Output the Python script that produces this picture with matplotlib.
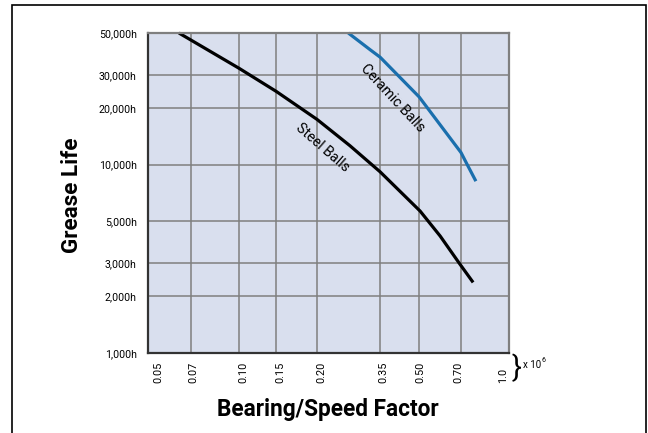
import numpy as np
import matplotlib
matplotlib.use("Agg")
import matplotlib.pyplot as plt
from matplotlib.patches import Rectangle
from matplotlib.transforms import ScaledTranslation

plt.rcParams['font.family'] = ['Roboto', 'DejaVu Sans']

# ---- data ----
x_ticks = [0.05, 0.07, 0.10, 0.15, 0.20, 0.35, 0.50, 0.70, 1.0]
x_tick_labels = ["0.05", "0.07", "0.10", "0.15", "0.20", "0.35", "0.50", "0.70", "1.0"]
y_ticks = [1000, 2000, 3000, 5000, 10000, 20000, 30000, 50000]
y_tick_labels = ["1,000h", "2,000h", "3,000h", "5,000h", "10,000h", "20,000h", "30,000h", "50,000h"]

steel_x = [0.0637, 0.10, 0.15, 0.20, 0.268, 0.35, 0.504, 0.592, 0.69, 0.766]
steel_y = [50000, 32500, 24500, 17400, 12600, 9160, 5670, 4180, 3000, 2370]

ceramic_x = [0.264, 0.32, 0.35, 0.50, 0.70, 0.731, 0.782]
ceramic_y = [50000, 40800, 37200, 22900, 11600, 10100, 8170]

# the printed chart's x axis is a hand-drawn, slightly irregular log axis:
# relative position of each labelled gridline across the plot width
x_grid_frac = [0.0, 0.119, 0.252, 0.355, 0.468, 0.643, 0.751, 0.867, 1.0]

log_ticks = np.log10(x_ticks)


def fwd(v):
    v = np.asarray(v, dtype=float)
    lv = np.log10(np.where(v > 0, v, 1e-9))
    return np.interp(lv, log_ticks, x_grid_frac)


def inv(f):
    f = np.asarray(f, dtype=float)
    return 10 ** np.interp(f, x_grid_frac, log_ticks)


fig = plt.figure(figsize=(6.48, 4.33), dpi=100)
ax = fig.add_axes([148 / 648, 1 - 353 / 433, (509 - 148) / 648, (353 - 33) / 433])
ax.set_facecolor('#d9dfee')

ax.set_xscale('function', functions=(fwd, inv))
ax.set_yscale('log')
ax.set_xlim(0.05, 1.0)
ax.set_ylim(1000, 50000)

ax.set_xticks(x_ticks)
ax.set_xticklabels(x_tick_labels, rotation=90, fontsize=7.8)
ax.set_xticks([], minor=True)
ax.set_yticks(y_ticks)
ax.set_yticklabels(y_tick_labels, fontsize=7.7)
ax.set_yticks([], minor=True)
ax.tick_params(axis='both', length=0)
ax.tick_params(axis='x', pad=21.6)
ax.tick_params(axis='y', pad=8)
for lab in ax.get_xticklabels():
    lab.set_va('bottom')

# small nudges of tick labels as printed
offsets = [10, 2, 4, 4, 4, 3, 1, -3, -6]
for lab, dx in zip(ax.get_xticklabels(), offsets):
    lab.set_transform(lab.get_transform() + ScaledTranslation(dx / 100, 0, fig.dpi_scale_trans))

ax.grid(True, which='major', color='#7f7f7f', linewidth=1.1)
ax.set_axisbelow(True)
for side in ['top', 'right']:
    ax.spines[side].set_color('#7f7f7f')
    ax.spines[side].set_linewidth(1.6)
for side in ['left', 'bottom']:
    ax.spines[side].set_color('#333333')
    ax.spines[side].set_linewidth(1.6)

ax.plot(steel_x, steel_y, color='black', linewidth=2.3, solid_capstyle='butt',
        solid_joinstyle='round', clip_on=False)
ax.plot(ceramic_x, ceramic_y, color='#1a6fad', linewidth=2.3, solid_capstyle='butt',
        solid_joinstyle='round', clip_on=False)

ax.text(0.211, 12300, "Steel Balls", rotation=-41, ha='center', va='center',
        fontsize=10.3, color='black', rotation_mode='anchor')
ax.text(0.394, 22600, "Ceramic Balls", rotation=-47, ha='center', va='center',
        fontsize=10.3, color='black', rotation_mode='anchor')

fig.text(72 / 648, 1 - 195 / 433, "Grease Life", rotation=90, ha='center', va='center',
         fontsize=16.2, fontweight='bold')
fig.text(328 / 648, 1 - 416 / 433, "Bearing/Speed Factor", ha='center', va='baseline',
         fontsize=16.3, fontweight='bold')

# "} x 10^6" multiplier note
fig.text(517 / 648, 1 - 369 / 433, "}", ha='center', va='center', fontsize=21)
fig.text(523 / 648, 1 - 365 / 433, "x 10", ha='left', va='center', fontsize=7)
fig.text(542 / 648, 1 - 361 / 433, "6", ha='left', va='center', fontsize=5)

# outer frame
fig.patches.append(Rectangle((12 / 648, -0.05), (646 - 12) / 648, 1.05 - 5 / 433,
                             transform=fig.transFigure, fill=False,
                             edgecolor='black', linewidth=1.2))

fig.savefig("out.png", dpi=100)
